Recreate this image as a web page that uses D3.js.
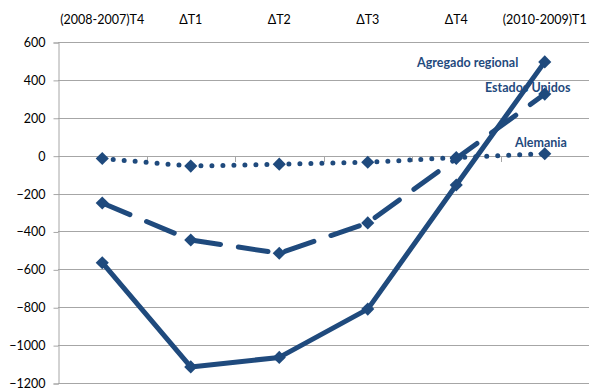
<!DOCTYPE html>
<html>
<head>
<meta charset="utf-8">
<script src="https://cdn.jsdelivr.net/npm/d3@7"></script>
<style>
  html, body { margin: 0; padding: 0; background: #fff; }
  svg { display: block; }
</style>
</head>
<body>
<svg id="chart" width="590" height="389"></svg>
<script>
// Quarterly changes by region
const categories = ["(2008-2007)T4", "ΔT1", "ΔT2", "ΔT3", "ΔT4", "(2010-2009)T1"];
const agregadoRegional = [-565, -1115, -1065, -810, -155, 495];
const estadosUnidos = [-250, -445, -515, -355, -15, 325];
const alemania = [-15, -55, -45, -35, -10, 10];
const yTicks = [600, 400, 200, 0, -200, -400, -600, -800, -1000, -1200];

const series = [
  { name: "Agregado regional", values: agregadoRegional, style: "solid", lx: 417, ly: 67 },
  { name: "Estados Unidos", values: estadosUnidos, style: "dash", lx: 485, ly: 92 },
  { name: "Alemania", values: alemania, style: "dot", lx: 515, ly: 147 }
];

const color = "#1F4A7D";
const svg = d3.select("#chart");
const margin = { left: 58, right: 1, top: 42, bottom: 6 };
const W = 590, H = 389;

const x = d3.scaleBand().domain(categories).range([margin.left, W - margin.right]);
const y = d3.scaleLinear().domain([-1200, 600]).range([H - margin.bottom, margin.top]);

// horizontal gridlines
svg.append("g").selectAll("line").data(yTicks).join("line")
  .attr("x1", margin.left).attr("x2", W - margin.right)
  .attr("y1", d => Math.round(y(d)) + 0.5).attr("y2", d => Math.round(y(d)) + 0.5)
  .attr("stroke", "#a6a6a6").attr("stroke-width", 1);

// left value axis
const yAxis = svg.append("g")
  .attr("transform", `translate(${margin.left + 0.5},0.5)`)
  .call(d3.axisLeft(y).tickValues(yTicks).tickSize(5).tickPadding(8).tickFormat(d3.format("d")));
yAxis.select(".domain").attr("stroke", "#a6a6a6");
yAxis.selectAll(".tick line").attr("stroke", "#a6a6a6");
yAxis.selectAll("text")
  .attr("font-family", "Lato, 'Open Sans', sans-serif")
  .attr("font-size", 12.5).attr("fill", "#000");

// category axis along zero, labels on top
const bounds = categories.slice(1).map(c => x(c));
svg.append("g").selectAll("line").data(bounds).join("line")
  .attr("x1", d => Math.round(d) + 0.5).attr("x2", d => Math.round(d) + 0.5)
  .attr("y1", Math.round(y(0))).attr("y2", Math.round(y(0)) + 6)
  .attr("stroke", "#a6a6a6");

svg.append("g").selectAll("text").data(categories).join("text")
  .attr("x", d => x(d) + x.bandwidth() / 2)
  .attr("y", 24)
  .attr("text-anchor", "middle")
  .attr("font-family", "Lato, 'Open Sans', sans-serif")
  .attr("font-size", 12.5).attr("fill", "#000")
  .text(d => d);

const line = d3.line()
  .x((d, i) => x(categories[i]) + x.bandwidth() / 2)
  .y(d => y(d));

const diamond = d3.symbol().type(d3.symbolDiamond2).size(110);

series.forEach(s => {
  const g = svg.append("g");
  const path = g.append("path")
    .datum(s.values)
    .attr("d", line)
    .attr("fill", "none")
    .attr("stroke", color);
  if (s.style === "solid") {
    path.attr("stroke-width", 5).attr("stroke-linejoin", "round");
  } else if (s.style === "dash") {
    path.attr("stroke-width", 5).attr("stroke-linecap", "round")
      .attr("stroke-dasharray", "30 18");
  } else {
    path.attr("stroke-width", 5).attr("stroke-linecap", "round")
      .attr("stroke-dasharray", "0 11");
  }
  g.selectAll("path.m").data(s.values).join("path")
    .attr("class", "m")
    .attr("d", diamond)
    .attr("transform", (d, i) => `translate(${x(categories[i]) + x.bandwidth() / 2},${y(d)})`)
    .attr("fill", color);
  svg.append("text")
    .attr("x", s.lx).attr("y", s.ly)
    .attr("font-family", "Lato, 'Open Sans', sans-serif")
    .attr("font-weight", "bold")
    .attr("font-size", 12.5)
    .attr("fill", color)
    .text(s.name);
});
</script>
</body>
</html>
